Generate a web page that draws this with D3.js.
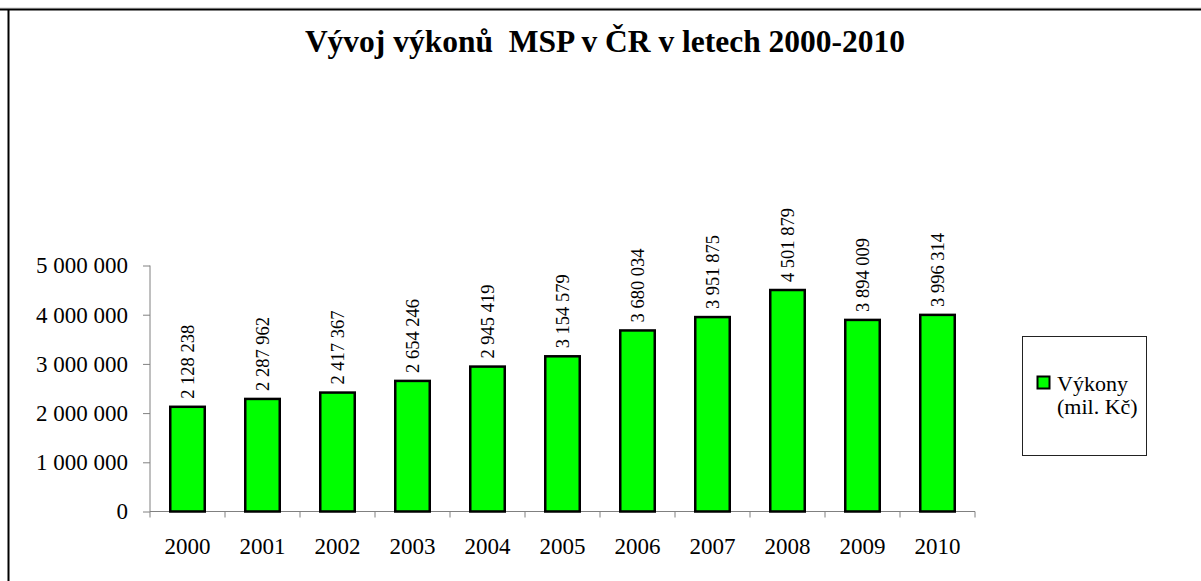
<!DOCTYPE html>
<html><head><meta charset="utf-8">
<script src="https://cdn.jsdelivr.net/npm/d3@7"></script>
<style>body{margin:0;background:#fff}svg{display:block}</style>
</head><body>
<svg id="c" width="1201" height="581"></svg>
<script>
const years = ["2000","2001","2002","2003","2004","2005","2006","2007","2008","2009","2010"];
const values = [2128238,2287962,2417367,2654246,2945419,3154579,3680034,3951875,4501879,3894009,3996314];
const yTicks = [0,1000000,2000000,3000000,4000000,5000000];
const title = "Vývoj výkonů  MSP v ČR v letech 2000-2010";
const legendLines = ["Výkony","(mil. Kč)"];

const SERIF = '"Liberation Serif","Times New Roman",serif';
const fmt = v => d3.format(",")(v).replace(/,/g, " ");
const svg = d3.select("#c");
// frame
svg.append("line").attr("x1",0).attr("x2",1201).attr("y1",8).attr("y2",8).attr("stroke","#ccc").attr("stroke-width",1);
svg.append("line").attr("x1",0).attr("x2",1201).attr("y1",9.5).attr("y2",9.5).attr("stroke","#000").attr("stroke-width",2);
svg.append("line").attr("x1",8.5).attr("x2",8.5).attr("y1",9).attr("y2",581).attr("stroke","#000").attr("stroke-width",2);

svg.append("text").attr("x",605).attr("y",52).attr("text-anchor","middle")
  .style("font-family",SERIF).style("font-size","31.5px").style("font-weight","bold")
  .style("white-space","pre").text(title);

const x = d3.scaleBand().domain(years).range([150,975]).paddingInner(0.54).paddingOuter(0.27);
const y = d3.scaleLinear().domain([0,5000000]).range([511.5,265.5]);

const g = svg.append("g");
// y axis
const ya = g.append("g").attr("transform","translate(150,0)")
  .call(d3.axisLeft(y).tickValues(yTicks).tickSize(7).tickPadding(15).tickFormat(fmt));
ya.select(".domain").attr("stroke","#808080").attr("d","M0,"+y(5000000)+"V"+y(0));
ya.selectAll(".tick line").attr("stroke","#808080");
ya.selectAll("text").attr("fill","#000").style("font-family",SERIF).style("font-size","23px");

// x axis
const step = 825/years.length;
const xa = g.append("g");
xa.append("line").attr("x1",150).attr("x2",975).attr("y1",y(0)).attr("y2",y(0)).attr("stroke","#808080");
xa.selectAll("line.t").data(d3.range(years.length+1)).join("line").attr("class","t")
  .attr("x1",i=>150+i*step).attr("x2",i=>150+i*step).attr("y1",y(0)).attr("y2",y(0)+6).attr("stroke","#808080");
xa.selectAll("text").data(years).join("text")
  .attr("x",d=>x(d)+x.bandwidth()/2).attr("y",554).attr("text-anchor","middle")
  .style("font-family",SERIF).style("font-size","23px").text(d=>d);

// bars
g.selectAll("rect.bar").data(years).join("rect").attr("class","bar")
  .attr("x",d=>x(d)).attr("width",x.bandwidth())
  .attr("y",(d,i)=>y(values[i])).attr("height",(d,i)=>y(0)-y(values[i]))
  .attr("fill","#00ff00").attr("stroke","#000").attr("stroke-width",2.5);

// value labels
g.selectAll("text.val").data(years).join("text").attr("class","val")
  .attr("transform",(d,i)=>`translate(${x(d)+x.bandwidth()/2+6.5},${y(values[i])-8}) rotate(-90)`)
  .style("font-family",SERIF).style("font-size","18.5px").text((d,i)=>fmt(values[i]));

// legend
const lg = svg.append("g");
lg.append("rect").attr("x",1022.5).attr("y",336.5).attr("width",124).attr("height",119)
  .attr("fill","#fff").attr("stroke","#222").attr("stroke-width",1);
lg.append("rect").attr("x",1037.5).attr("y",376.5).attr("width",12).attr("height",12)
  .attr("fill","#00ff00").attr("stroke","#000").attr("stroke-width",2);
lg.selectAll("text").data(legendLines).join("text")
  .attr("x",1057).attr("y",(d,i)=>391+i*23)
  .style("font-family",SERIF).style("font-size","22px").text(d=>d);
</script>
</body></html>
